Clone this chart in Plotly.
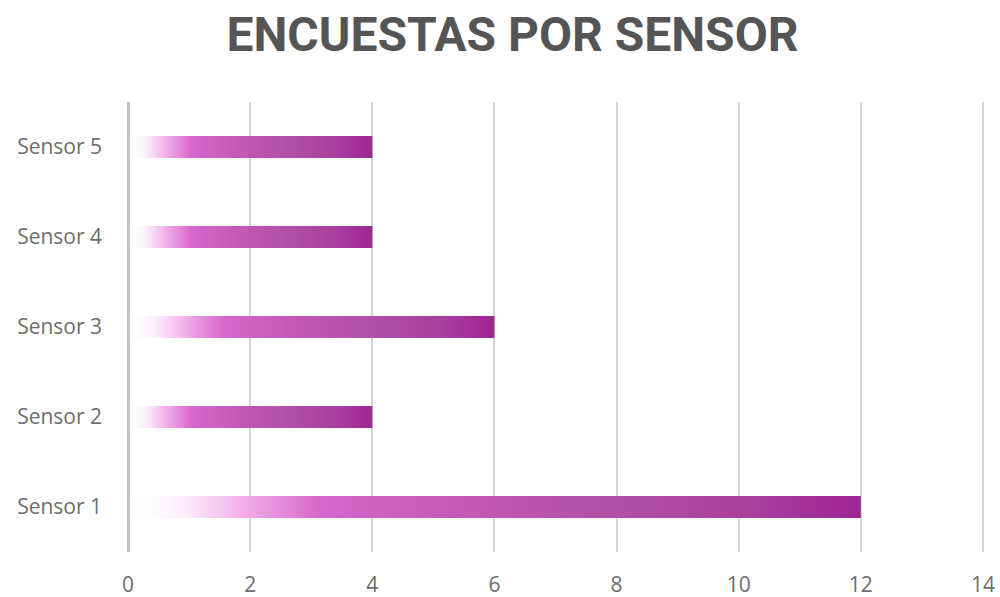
import plotly.graph_objects as go

# Survey counts per sensor
sensors = ["Sensor 1", "Sensor 2", "Sensor 3", "Sensor 4", "Sensor 5"]
encuestas = [12, 4, 6, 4, 4]
x_ticks = [0, 2, 4, 6, 8, 10, 12, 14]

BAR_HALF = 0.122  # half bar thickness in category units

# white-to-purple horizontal gradient applied along each bar
gradient = [
    [0.00, "rgba(255,255,255,0.0)"],
    [0.08, "rgba(250,232,248,0.9)"],
    [0.16, "rgb(240,172,232)"],
    [0.26, "rgb(216,104,204)"],
    [0.45, "rgb(196,88,184)"],
    [0.65, "rgb(178,80,168)"],
    [0.85, "rgb(168,64,158)"],
    [1.00, "rgb(160,36,148)"],
]

fig = go.Figure()

for i, (name, val) in enumerate(zip(sensors, encuestas)):
    fig.add_trace(go.Scatter(
        x=[0, val, val, 0, 0],
        y=[i - BAR_HALF, i - BAR_HALF, i + BAR_HALF, i + BAR_HALF, i - BAR_HALF],
        mode="lines",
        fill="toself",
        line=dict(width=0),
        fillgradient=dict(type="horizontal", colorscale=gradient, start=0, stop=val),
        name=name,
        hoverinfo="skip",
        showlegend=False,
    ))

fig.update_layout(
    width=1000,
    height=597,
    paper_bgcolor="white",
    plot_bgcolor="white",
    margin=dict(l=125, r=14, t=102, b=45, autoexpand=False),
    title=dict(
        text="ENCUESTAS POR SENSOR",
        x=0.5125,
        xanchor="center",
        y=0.943,
        yanchor="middle",
        font=dict(family="Roboto", size=48, color="#555555", weight="bold"),
    ),
    xaxis=dict(
        range=[-0.05, 14.05],
        tickvals=x_ticks,
        automargin=False,
        showgrid=True,
        gridcolor="#d6d6d6",
        gridwidth=1.5,
        zeroline=True,
        zerolinecolor="#c4c4c4",
        zerolinewidth=2.5,
        showline=False,
        ticks="",
        ticklabelstandoff=18,
        tickfont=dict(family="Open Sans", size=21, color="#6e6e6e"),
        fixedrange=True,
    ),
    yaxis=dict(
        range=[-0.5, 4.5],
        tickvals=list(range(len(sensors))),
        ticktext=sensors,
        automargin=False,
        showgrid=False,
        zeroline=False,
        showline=False,
        ticks="",
        ticklabelstandoff=22,
        tickfont=dict(family="Open Sans", size=21, color="#6e6e6e"),
        fixedrange=True,
    ),
)

fig.write_html("out.html")
